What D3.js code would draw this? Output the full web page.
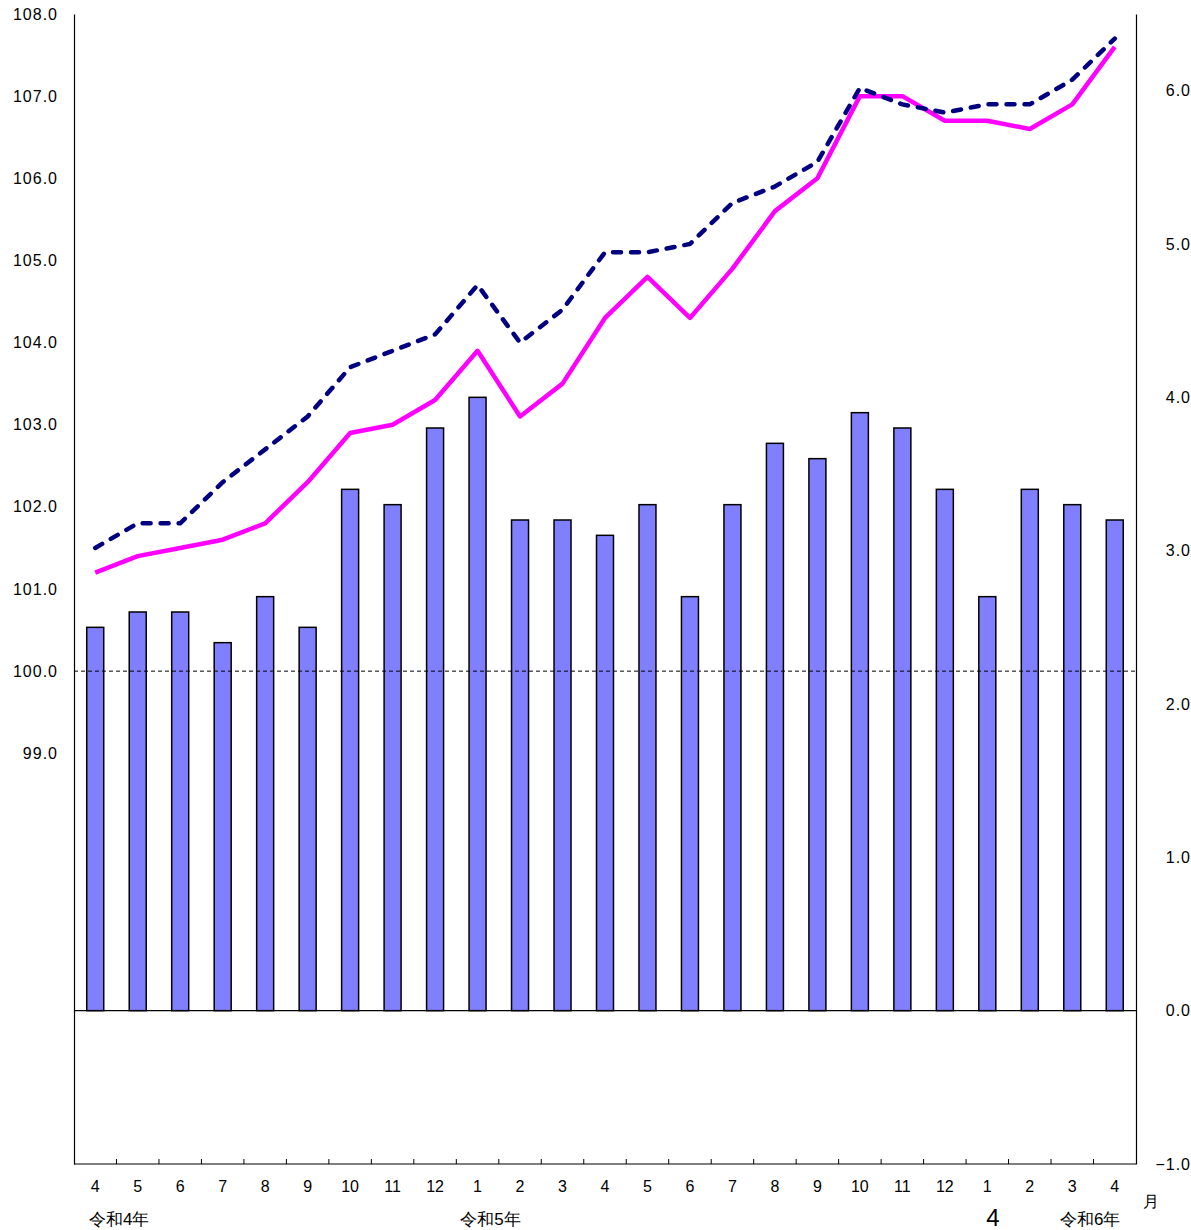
<!DOCTYPE html>
<html>
<head>
<meta charset="utf-8">
<script src="https://cdn.jsdelivr.net/npm/d3@7"></script>
<style>
  body { margin: 0; background: #fff; }
  text { font-family: "Liberation Sans", Arial, sans-serif; }
</style>
</head>
<body>
<div id="chart"></div>
<script>
// months, 令和4年4月 .. 令和6年4月
const months = ["4","5","6","7","8","9","10","11","12","1","2","3","4","5","6","7","8","9","10","11","12","1","2","3","4"];
// bars (right axis)
const barValues = [2.5,2.6,2.6,2.4,2.7,2.5,3.4,3.3,3.8,4.0,3.2,3.2,3.1,3.3,2.7,3.3,3.7,3.6,3.9,3.8,3.4,2.7,3.4,3.3,3.2];
// solid magenta line (left axis)
const solidValues = [101.2,101.4,101.5,101.6,101.8,102.3,102.9,103.0,103.3,103.9,103.1,103.5,104.3,104.8,104.3,104.9,105.6,106.0,107.0,107.0,106.7,106.7,106.6,106.9,107.6];
// dashed navy line (left axis)
const dashedValues = [101.5,101.8,101.8,102.3,102.7,103.1,103.7,103.9,104.1,104.7,104.0,104.4,105.1,105.1,105.2,105.7,105.9,106.2,107.1,106.9,106.8,106.9,106.9,107.2,107.7];
const leftTicks = [99,100,101,102,103,104,105,106,107,108];
const rightTicks = [-1,0,1,2,3,4,5,6];
const yearIndex = [0, 9, 23];
const yearText = ["令和4年", "令和5年", "令和6年"];

const W = 1191, H = 1230;
const m = {left: 74, right: 1136, top: 14, bottom: 1164};
const yearDx = [15, 4, 9];   // offsets from band start

const svg = d3.select("#chart").append("svg")
    .attr("width", W)
    .attr("height", H);

const x = d3.scaleBand()
    .domain(d3.range(months.length))
    .range([m.left, m.right])
    .padding(0);

const yL = d3.scaleLinear().domain([94, 108]).range([m.bottom, m.top]);
const yR = d3.scaleLinear().domain([-1, 6.5]).range([m.bottom, m.top]);

// bars
const bw = x.bandwidth() * 0.4;
svg.append("g")
    .selectAll("rect")
    .data(barValues)
    .join("rect")
    .attr("x", (d, i) => x(i) + x.bandwidth() / 2 - bw / 2)
    .attr("y", d => yR(d))
    .attr("width", bw)
    .attr("height", d => yR(0) - yR(d))
    .attr("fill", "#8080ff")
    .attr("stroke", "#000")
    .attr("stroke-width", 1.5);

// zero line (right) and 100 line (left)
svg.append("line")
    .attr("x1", m.left).attr("x2", m.right)
    .attr("y1", yR(0)).attr("y2", yR(0))
    .attr("stroke", "#000").attr("stroke-width", 1.2);

svg.append("line")
    .attr("x1", m.left).attr("x2", m.right)
    .attr("y1", yL(100)).attr("y2", yL(100))
    .attr("stroke", "#000").attr("stroke-width", 1)
    .attr("stroke-dasharray", "4,3");

// lines
const line = d3.line()
    .x((d, i) => x(i) + x.bandwidth() / 2)
    .y(d => yL(d));

svg.append("path")
    .datum(solidValues)
    .attr("d", line)
    .attr("fill", "none")
    .attr("stroke", "#ff00ff")
    .attr("stroke-width", 4.5)
    .attr("stroke-linejoin", "round");

svg.append("path")
    .datum(dashedValues)
    .attr("d", line)
    .attr("fill", "none")
    .attr("stroke", "#000080")
    .attr("stroke-width", 4.5)
    .attr("stroke-linecap", "round")
    .attr("stroke-dasharray", "8,10");

// left axis
const gL = svg.append("g")
    .attr("transform", `translate(${m.left},0)`)
    .call(d3.axisLeft(yL).tickValues(leftTicks).tickSize(0).tickSizeOuter(0).tickPadding(16).tickFormat(d3.format(".1f")));
gL.select(".domain").attr("stroke", "#000").attr("stroke-width", 1.2);
gL.selectAll("text").attr("font-size", 16).attr("fill", "#000")
    .attr("letter-spacing", 1)
    .attr("font-family", "'Liberation Sans', Arial, sans-serif");

// right axis
const gR = svg.append("g")
    .attr("transform", `translate(${m.right},0)`)
    .call(d3.axisRight(yR).tickValues(rightTicks).tickSize(0).tickSizeOuter(0)
        .tickFormat(d => d < 0 ? "−" + Math.abs(d).toFixed(1) : d.toFixed(1)));
gR.select(".domain").attr("stroke", "#000").attr("stroke-width", 1.2);
gR.selectAll("text").attr("font-size", 16).attr("fill", "#000")
    .attr("letter-spacing", 1)
    .attr("text-anchor", "end").attr("x", 55)
    .attr("font-family", "'Liberation Sans', Arial, sans-serif");

// bottom axis
svg.append("line")
    .attr("x1", m.left).attr("x2", m.right)
    .attr("y1", m.bottom).attr("y2", m.bottom)
    .attr("stroke", "#000").attr("stroke-width", 1.2);

svg.append("g")
    .selectAll("line")
    .data(d3.range(1, months.length))
    .join("line")
    .attr("x1", i => x(i)).attr("x2", i => x(i))
    .attr("y1", m.bottom).attr("y2", m.bottom - 5)
    .attr("stroke", "#000").attr("stroke-width", 1);

svg.append("g")
    .selectAll("text")
    .data(months)
    .join("text")
    .attr("x", (d, i) => x(i) + x.bandwidth() / 2)
    .attr("y", 1192)
    .attr("text-anchor", "middle")
    .attr("font-size", 16)
    .text(d => d);

svg.append("g")
    .selectAll("text")
    .data(yearText)
    .join("text")
    .attr("x", (d, k) => x(yearIndex[k]) + yearDx[k])
    .attr("y", 1225)
    .attr("font-size", 17)
    .attr("font-family", "'Noto Sans CJK JP', sans-serif")
    .text(d => d);

svg.append("text")
    .attr("x", 1143).attr("y", 1207)
    .attr("font-size", 16)
    .attr("font-family", "'Noto Sans CJK JP', sans-serif")
    .text("月");

svg.append("text")
    .attr("x", 993).attr("y", 1226)
    .attr("text-anchor", "middle")
    .attr("font-size", 24)
    .attr("font-family", "'Liberation Serif', serif")
    .text("4");
</script>
</body>
</html>
